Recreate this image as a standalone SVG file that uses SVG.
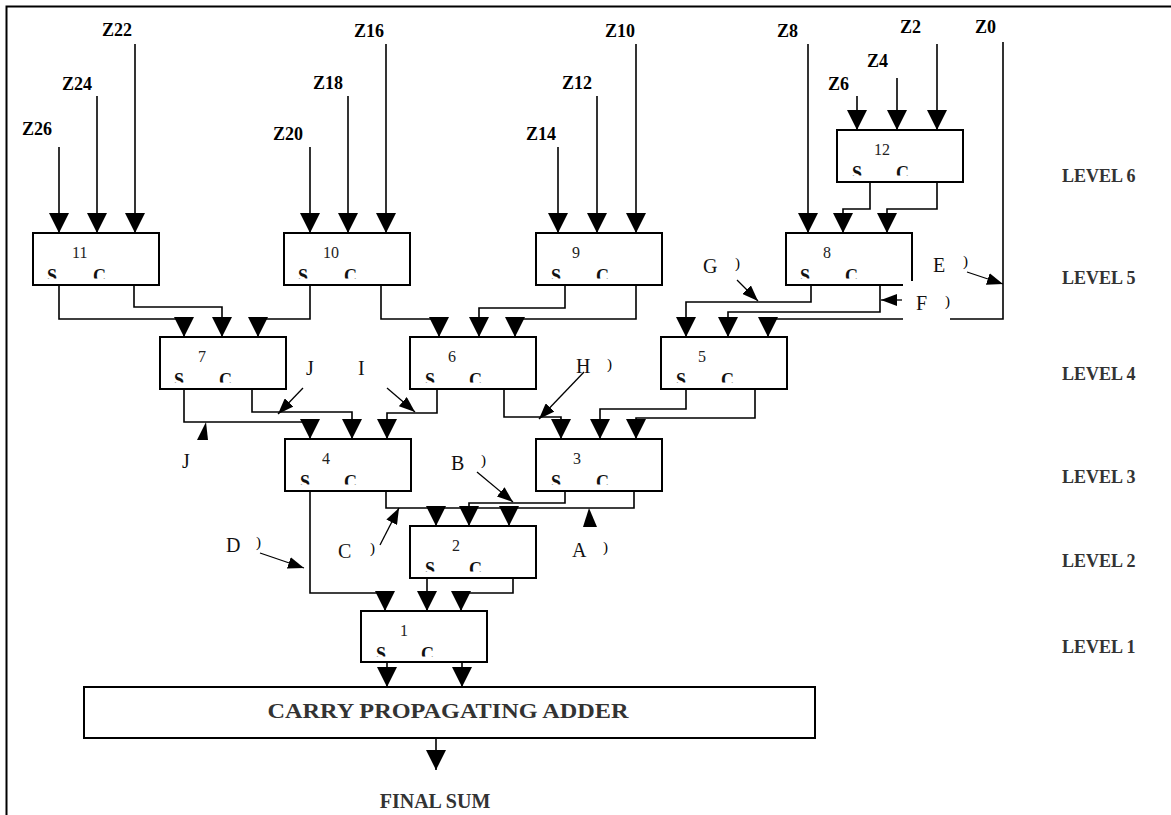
<svg xmlns="http://www.w3.org/2000/svg" width="1171" height="815" viewBox="0 0 1171 815">
<style>
.node rect{fill:#fff;stroke:#000;stroke-width:2}
.num{font-family:"Liberation Serif",serif;font-size:16px;fill:#222}
.sc{font-family:"Liberation Serif",serif;font-weight:bold;font-size:18px;fill:#111}
.z{font-family:"Liberation Serif",serif;font-weight:bold;font-size:18px;fill:#000}
.lvl{font-family:"Liberation Serif",serif;font-weight:bold;font-size:18px;fill:#333}
.lbl{font-family:"Liberation Serif",serif;font-size:20px;fill:#111}
.par{font-family:"Liberation Serif",serif;font-size:15px;fill:#000}
.w{fill:none;stroke:#000;stroke-width:1.6;marker-end:url(#ah)}
.ln{fill:none;stroke:#000;stroke-width:1.6}
.t{fill:none;stroke:#000;stroke-width:1.3;marker-end:url(#sah)}
.big{font-family:"Liberation Serif",serif;font-weight:bold;font-size:20px;fill:#333}
</style>
<defs>
<marker id="ah" viewBox="0 0 20 20" refX="20" refY="10" markerWidth="20" markerHeight="20" markerUnits="userSpaceOnUse" orient="auto"><path d="M0,0 L20,10 L0,20 z" fill="#000"/></marker>
<marker id="sah" viewBox="0 0 16 12" refX="16" refY="6" markerWidth="16" markerHeight="12" markerUnits="userSpaceOnUse" orient="auto"><path d="M0,0 L16,6 L0,12 z" fill="#000"/></marker>
<clipPath id="sc"><rect x="0" y="0" width="126" height="45.5"/></clipPath>
</defs>
<rect width="1171" height="815" fill="#fff"/>
<path d="M6.5,815 V6.5 H1171" fill="none" stroke="#000" stroke-width="2"/>

<g id="inputs">
<text class="z" x="22" y="135">Z26</text>
<text class="z" x="62" y="90">Z24</text>
<text class="z" x="102" y="36">Z22</text>
<text class="z" x="273" y="140">Z20</text>
<text class="z" x="313" y="89">Z18</text>
<text class="z" x="354" y="37">Z16</text>
<text class="z" x="526" y="140">Z14</text>
<text class="z" x="562" y="89">Z12</text>
<text class="z" x="605" y="37">Z10</text>
<text class="z" x="777" y="37">Z8</text>
<text class="z" x="828" y="90">Z6</text>
<text class="z" x="867" y="67">Z4</text>
<text class="z" x="900" y="33">Z2</text>
<text class="z" x="975" y="33">Z0</text>
</g>

<g id="levels">
<text class="lvl" x="1062" y="182">LEVEL 6</text>
<text class="lvl" x="1062" y="284">LEVEL 5</text>
<text class="lvl" x="1062" y="380">LEVEL 4</text>
<text class="lvl" x="1062" y="483">LEVEL 3</text>
<text class="lvl" x="1062" y="567">LEVEL 2</text>
<text class="lvl" x="1062" y="653">LEVEL 1</text>
</g>

<g id="connectors">
<path class="w" d="M59,147 V233"/>
<path class="w" d="M97,96 V233"/>
<path class="w" d="M135,44 V233"/>
<path class="w" d="M310,147 V233"/>
<path class="w" d="M348,96 V233"/>
<path class="w" d="M386,44 V233"/>
<path class="w" d="M558,147 V233"/>
<path class="w" d="M597,96 V233"/>
<path class="w" d="M636,44 V233"/>
<path class="w" d="M808,44 V233"/>
<path class="w" d="M857,96 V130"/>
<path class="w" d="M897,78 V130"/>
<path class="w" d="M937,44 V130"/>
<path class="w" d="M1003,42 V319 H768 V337"/>
<path class="w" d="M870,182 V209 H843 V233"/>
<path class="w" d="M937,182 V209 H887 V233"/>
<path class="w" d="M59,285 V319 H184 V337"/>
<path class="w" d="M134,285 V307 H222 V337"/>
<path class="w" d="M310,285 V319 H258 V337"/>
<path class="w" d="M381,285 V319 H439 V337"/>
<path class="w" d="M565,285 V308 H479 V337"/>
<path class="w" d="M636,285 V319 H515 V337"/>
<path class="w" d="M811,285 V302 H686 V337"/>
<path class="w" d="M880,285 V312 H728 V337"/>
<path class="w" d="M184,388 V422 H310 V439"/>
<path class="w" d="M252,388 V412 H352 V439"/>
<path class="w" d="M437,388 V413 H387 V439"/>
<path class="w" d="M504,388 V417 H561 V439"/>
<path class="w" d="M686,388 V409 H600 V439"/>
<path class="w" d="M755,388 V418 H636 V439"/>
<path class="w" d="M310,491 V593 H385 V611"/>
<path class="w" d="M386,491 V508 H436 V526"/>
<path class="w" d="M565,491 V503 H469 V526"/>
<path class="w" d="M634,491 V508 H509 V526"/>
<path class="ln" d="M509,508 H436"/>
<path class="w" d="M427,577 V611"/>
<path class="w" d="M513,577 V593 H461 V611"/>
<path class="w" d="M387,662 V687"/>
<path class="w" d="M462,662 V687"/>
<path class="w" d="M436,738 V770"/>
<path class="t" d="M303,388 L278,414"/>
<path class="t" d="M387,388 L415,412"/>
<path class="t" d="M584,372 L539,419"/>
<path class="t" d="M737,280 L758,301"/>
<path class="t" d="M967,272 L1003,284"/>
<path class="t" d="M902,300 L881,300"/>
<path class="t" d="M477,472 L513,502"/>
<path class="t" d="M380,545 L399,508"/>
<path class="t" d="M260,553 L304,568"/>
<polygon points="206,422 197,440 208,440" fill="#000"/>
<polygon points="589,508 583,527 597,527" fill="#000"/>
</g>

<g id="n12" class="node" transform="translate(837,130)"><rect width="126" height="52"/><text class="num" x="37" y="25">12</text><g clip-path="url(#sc)"><text class="sc" x="15" y="49">S</text><text class="sc" x="59" y="49">C</text></g></g>
<g id="n11" class="node" transform="translate(33,233)"><rect width="126" height="52"/><text class="num" x="39" y="25">11</text><g clip-path="url(#sc)"><text class="sc" x="14" y="49">S</text><text class="sc" x="60" y="49">C</text></g></g>
<g id="n10" class="node" transform="translate(284,233)"><rect width="126" height="52"/><text class="num" x="39" y="25">10</text><g clip-path="url(#sc)"><text class="sc" x="14" y="49">S</text><text class="sc" x="60" y="49">C</text></g></g>
<g id="n9" class="node" transform="translate(536,233)"><rect width="126" height="52"/><text class="num" x="36" y="25">9</text><g clip-path="url(#sc)"><text class="sc" x="15" y="49">S</text><text class="sc" x="60" y="49">C</text></g></g>
<g id="n8" class="node" transform="translate(786,233)"><rect width="126" height="52"/><text class="num" x="37" y="25">8</text><g clip-path="url(#sc)"><text class="sc" x="14" y="49">S</text><text class="sc" x="59" y="49">C</text></g></g>
<g id="n7" class="node" transform="translate(160,337)"><rect width="126" height="52"/><text class="num" x="38" y="25">7</text><g clip-path="url(#sc)"><text class="sc" x="14" y="49">S</text><text class="sc" x="59" y="49">C</text></g></g>
<g id="n6" class="node" transform="translate(410,337)"><rect width="126" height="52"/><text class="num" x="38" y="25">6</text><g clip-path="url(#sc)"><text class="sc" x="15" y="49">S</text><text class="sc" x="59" y="49">C</text></g></g>
<g id="n5" class="node" transform="translate(661,337)"><rect width="126" height="52"/><text class="num" x="37" y="25">5</text><g clip-path="url(#sc)"><text class="sc" x="15" y="49">S</text><text class="sc" x="60" y="49">C</text></g></g>
<g id="n4" class="node" transform="translate(285,439)"><rect width="126" height="52"/><text class="num" x="37" y="25">4</text><g clip-path="url(#sc)"><text class="sc" x="15" y="49">S</text><text class="sc" x="59" y="49">C</text></g></g>
<g id="n3" class="node" transform="translate(536,439)"><rect width="126" height="52"/><text class="num" x="37" y="25">3</text><g clip-path="url(#sc)"><text class="sc" x="15" y="49">S</text><text class="sc" x="60" y="49">C</text></g></g>
<g id="n2" class="node" transform="translate(410,526)"><rect width="126" height="52"/><text class="num" x="42" y="25">2</text><g clip-path="url(#sc)"><text class="sc" x="15" y="49">S</text><text class="sc" x="59" y="49">C</text></g></g>
<g id="n1" class="node" transform="translate(361,611)"><rect width="126" height="51"/><text class="num" x="39" y="25">1</text><g clip-path="url(#sc)"><text class="sc" x="15" y="49">S</text><text class="sc" x="60" y="49">C</text></g></g>
<g id="cpa" class="node"><rect x="84" y="687" width="731" height="51"/><text class="big" style="font-size:21px" x="448" y="718" text-anchor="middle" textLength="361" lengthAdjust="spacingAndGlyphs">CARRY PROPAGATING ADDER</text></g>
<g id="final"><text class="big" x="435" y="808" text-anchor="middle">FINAL SUM</text></g>

<g id="labels">
<text class="lbl" x="306" y="375">J</text>
<text class="lbl" x="358" y="375">I</text>
<text class="lbl" x="182" y="468">J</text>
<text class="lbl" x="576" y="373">H</text><text class="par" x="607" y="369">)</text>
<text class="lbl" x="703" y="273">G</text><text class="par" x="735" y="268">)</text>
<text class="lbl" x="451" y="470">B</text><text class="par" x="481" y="465">)</text>
<text class="lbl" x="338" y="558">C</text><text class="par" x="370" y="553">)</text>
<text class="lbl" x="226" y="552">D</text><text class="par" x="256" y="547">)</text>
<text class="lbl" x="572" y="557">A</text><text class="par" x="603" y="552">)</text>
<text class="lbl" x="933" y="272">E</text><text class="par" x="963" y="266">)</text>
<g id="labelF"><rect x="903" y="281" width="47" height="44" fill="#fff"/><text class="lbl" x="916" y="310">F</text><text class="par" x="945" y="306">)</text></g>
</g>
</svg>
